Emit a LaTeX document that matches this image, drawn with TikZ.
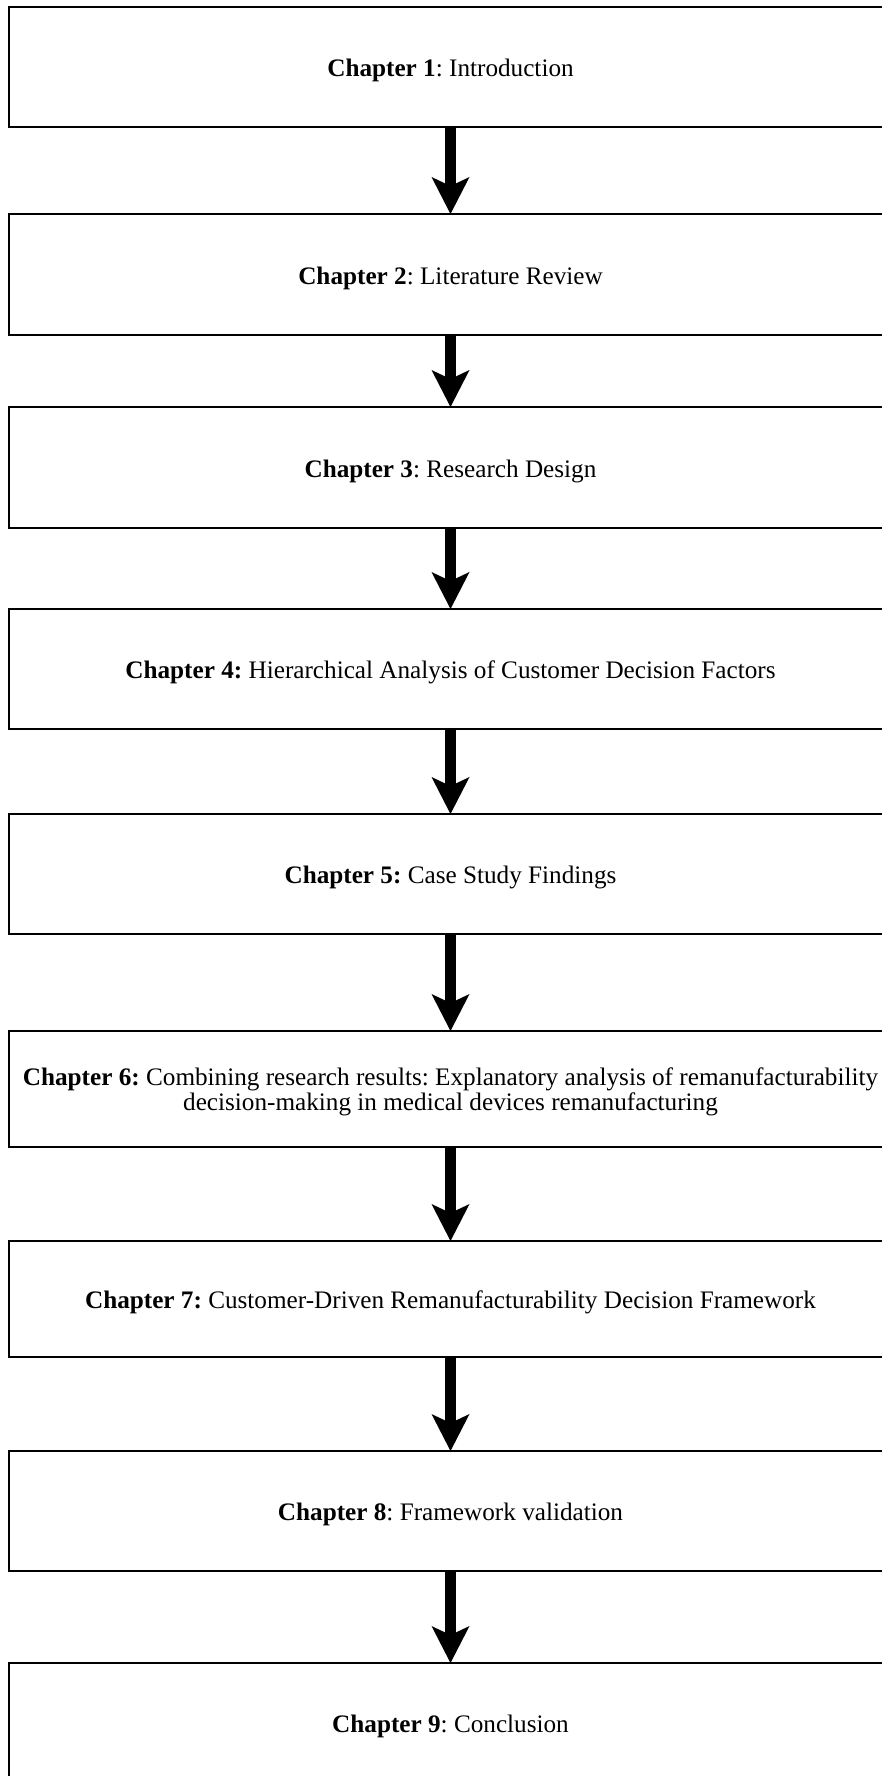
\documentclass[tikz,border=0pt]{standalone}
\usepackage{fontspec}
\setmainfont{Liberation Serif}
\frenchspacing
\usetikzlibrary{arrows.meta}
% set a box's text a little lower without changing its size
\newcommand{\dropline}[1]{\raisebox{-3.5pt}[\height][\depth]{#1}}
\begin{document}
\begin{tikzpicture}[x=1pt,y=-1pt,
  chapbox/.style={draw=black, line width=1.3pt, rectangle, minimum width=883pt,
    inner sep=0pt, outer sep=0pt, align=center, anchor=north west,
    font=\fontsize{25.2}{25}\selectfont},
  flow/.style={line width=11pt,
    -{Stealth[length=37pt,width=38pt,inset=9pt,line width=0pt]}}]
\useasboundingbox (0,0) rectangle (882,1776);
\clip (0,0) rectangle (882,1776);
% chapter boxes, running off the right and bottom edges
\node[chapbox, minimum height=120pt] (c1) at (9,7) {\dropline{\textbf{Chapter 1}: Introduction}};
\node[chapbox, minimum height=121pt] (c2) at (9,214) {\dropline{\textbf{Chapter 2}: Literature Review}};
\node[chapbox, minimum height=121pt] (c3) at (9,407) {\dropline{\textbf{Chapter 3}: Research Design}};
\node[chapbox, minimum height=120pt] (c4) at (9,609) {\dropline{\textbf{Chapter 4:} Hierarchical Analysis of Customer Decision Factors}};
\node[chapbox, minimum height=120pt] (c5) at (9,814) {\dropline{\textbf{Chapter 5:} Case Study Findings}};
\node[chapbox, minimum height=116pt] (c6) at (9,1031) {\dropline{\begin{tabular}{@{}c@{}}\textbf{Chapter 6:} Combining research results: Explanatory analysis of remanufacturability\\decision-making in medical devices remanufacturing\end{tabular}}};
\node[chapbox, minimum height=116pt] (c7) at (9,1241) {\dropline{\textbf{Chapter 7:} Customer-Driven Remanufacturability Decision Framework}};
\node[chapbox, minimum height=120pt] (c8) at (9,1451) {\dropline{\textbf{Chapter 8}: Framework validation}};
\node[chapbox, minimum height=120pt] (c9) at (9,1663) {\dropline{\textbf{Chapter 9}: Conclusion}};
% flow arrows between consecutive chapters
\draw[flow] (c1) -- (c2);
\draw[flow] (c2) -- (c3);
\draw[flow] (c3) -- (c4);
\draw[flow] (c4) -- (c5);
\draw[flow] (c5) -- (c6);
\draw[flow] (c6) -- (c7);
\draw[flow] (c7) -- (c8);
\draw[flow] (c8) -- (c9);
\end{tikzpicture}
\end{document}
